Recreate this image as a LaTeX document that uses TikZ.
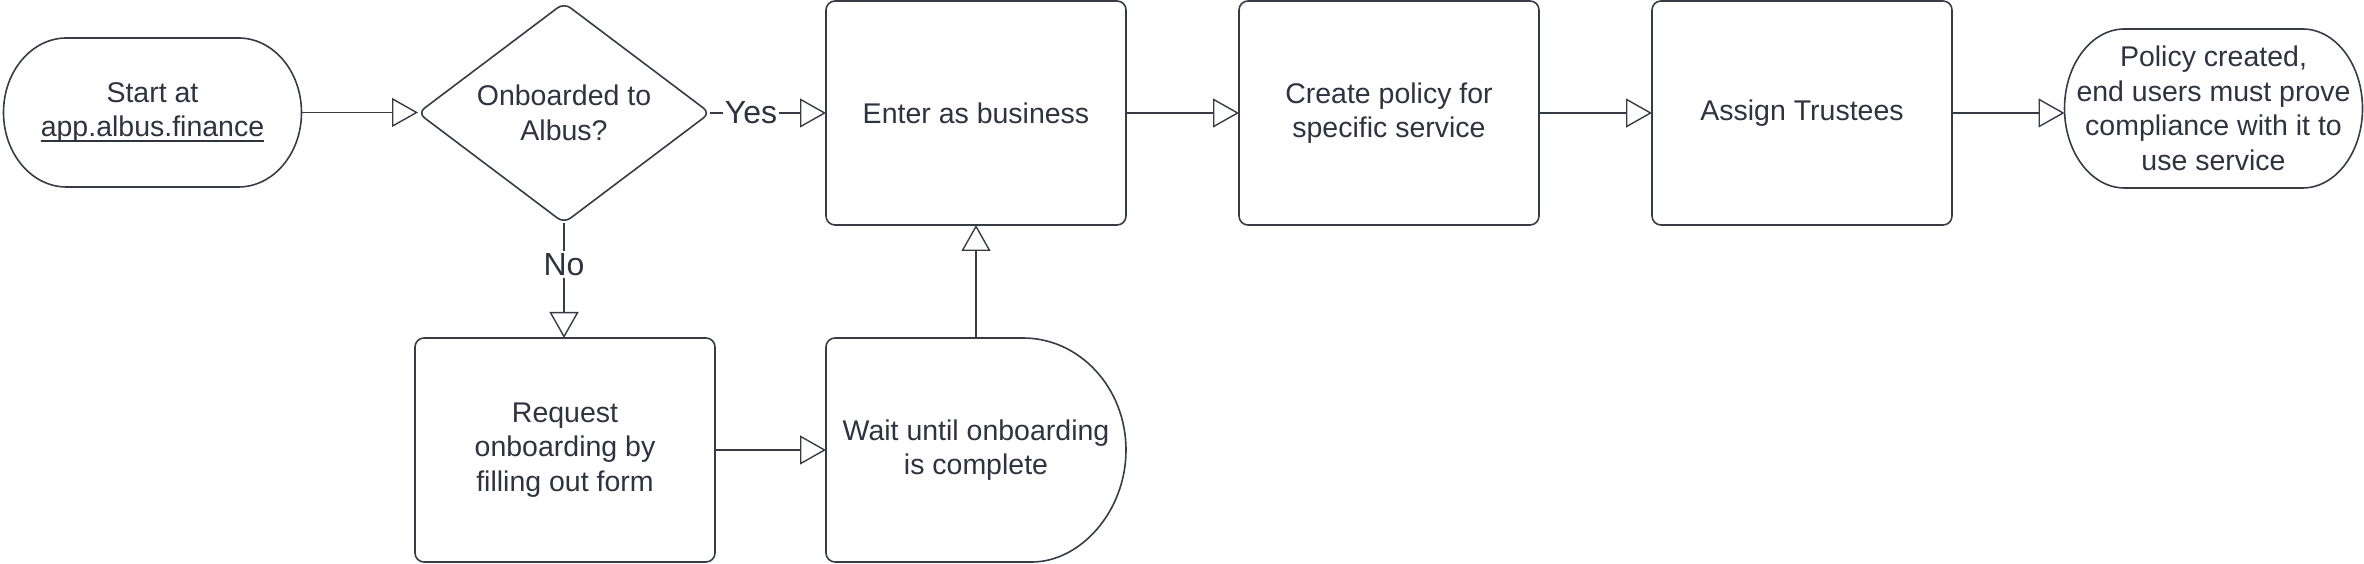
\documentclass[tikz,border=0pt]{standalone}
\usepackage{fontspec}
\setmainfont{Liberation Sans}
\usetikzlibrary{arrows.meta,shapes.geometric}
\definecolor{linec}{HTML}{363C47}
\definecolor{textc}{HTML}{2D3340}
\newcommand{\ulink}[1]{{\setbox0\hbox{#1}\rlap{\rule[-5pt]{\wd0}{1.8pt}}\box0}}
\tikzset{
  base/.style={draw=none, outer sep=0pt, inner sep=0pt, align=center, text=textc,
    font=\fontsize{28.5}{34.5}\selectfont},
  procbox/.style={base, draw=linec, line width=1.6pt, rounded corners=9pt,
    minimum width=300pt, minimum height=224pt},
  plainbox/.style={base},
  decide/.style={base, diamond, draw=linec, line width=1.6pt, rounded corners=8pt,
    minimum width=292pt, minimum height=220pt, aspect=1.33},
  outline/.style={draw=linec, line width=1.6pt},
  conn/.style={draw=linec, line width=1.4pt, -{Triangle[open, length=26pt, width=29pt, line width=1.4pt]}},
  lbl/.style={fill=white, text=textc, inner sep=2pt, font=\fontsize{32}{37}\selectfont}
}
\begin{document}
\begin{tikzpicture}[x=1pt,y=1pt]
\useasboundingbox (0,0) rectangle (2364,564);
% nodes
\node[plainbox, minimum width=298pt, minimum height=149pt] (start) at (152.5,451.5)
  {Start at\\\ulink{app.albus.finance}};
\node[decide] (dia) at (564,451) {Onboarded to\\Albus?};
\node[procbox] (enter) at (976,451) {Enter as business};
\node[procbox] (create) at (1389,451) {Create policy for\\specific service};
\node[procbox] (assign) at (1802,451) {Assign Trustees};
\node[plainbox, minimum width=298pt, minimum height=159pt] (end) at (2213.5,455.5)
  {Policy created,\\end users must prove\\compliance with it to\\use service};
\node[procbox] (request) at (565,114) {Request\\onboarding by\\filling out form};
\node[plainbox, minimum width=300pt, minimum height=224pt] (wait) at (976,114)
  {Wait until onboarding\\is complete};
% outlines of terminals and delay
\draw[outline] ([xshift=63pt]start.north west) -- ([xshift=-63pt]start.north east)
  arc[start angle=90, end angle=-90, x radius=63pt, y radius=74.5pt]
  -- ([xshift=63pt]start.south west)
  arc[start angle=270, end angle=90, x radius=63pt, y radius=74.5pt] -- cycle;
\draw[outline] ([xshift=60pt]end.north west) -- ([xshift=-60pt]end.north east)
  arc[start angle=90, end angle=-90, x radius=60pt, y radius=79.5pt]
  -- ([xshift=60pt]end.south west)
  arc[start angle=270, end angle=90, x radius=60pt, y radius=79.5pt] -- cycle;
\draw[outline, rounded corners=9pt] ([xshift=-103pt]wait.north east) -- (wait.north west)
  -- (wait.south west) -- ([xshift=-103pt]wait.south east) [sharp corners]
  arc[start angle=-90, end angle=90, x radius=103pt, y radius=112pt] -- cycle;
% connectors
\draw[conn] (start.east) -- (start.east -| dia.west);
\draw[conn] (dia.east) -- node[lbl, pos=0.354] {Yes} (dia.east -| enter.west);
\draw[conn] (dia.south) -- node[lbl, pos=0.36] {No} (dia.south |- request.north);
\draw[conn] (enter.east) -- (create.west);
\draw[conn] (create.east) -- (assign.west);
\draw[conn, line width=2.2pt] (assign.east) -- (assign.east -| end.west);
\draw[conn] (request.east) -- (request.east -| wait.west);
\draw[conn] (wait.north) -- (enter.south);
\end{tikzpicture}
\end{document}
